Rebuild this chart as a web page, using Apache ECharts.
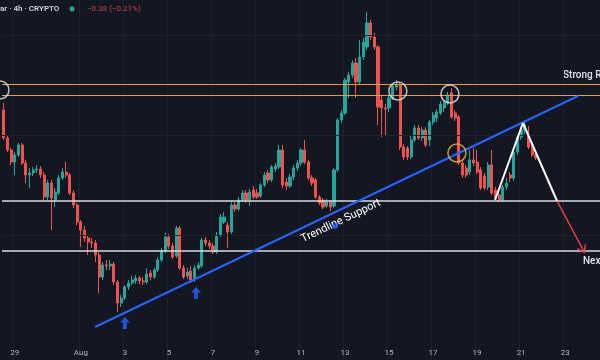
<!DOCTYPE html>
<html><head><meta charset="utf-8">
<script src="https://cdn.jsdelivr.net/npm/echarts@6/dist/echarts.min.js"></script>
<style>html,body{margin:0;padding:0;background:#131722;}#c{width:600px;height:360px;}</style>
</head><body><div id="c"></div>
<script>
// 4h candles, starting Jul 28 12:00 (price units are chart-relative)
const opens = [250,222,210,198,205,215,197,185,187,190,
191,185,163,177,160,167,182,188,185,167,
155,138,130,122,118,117,105,83,95,94,
96,78,57,62,73,77,79,82,79,78,
87,83,90,100,109,123,114,104,132,92,
84,89,80,92,94,120,117,114,108,125,
138,135,128,155,151,160,167,160,170,167,
164,175,187,180,191,193,210,178,174,183,
192,197,210,198,182,180,163,160,154,158,
154,190,240,247,278,285,297,278,303,313,
337,323,313,260,252,252,262,273,275,213,
212,203,220,232,222,230,220,238,242,247,
252,257,267,247,243,197,192,188,200,198,
190,184,173,195,170,165,160,173,185,182,
208,223,230,225,215,205];
const closes = [222,210,198,205,215,197,185,187,190,191,
185,163,177,162,168,182,188,185,167,155,
138,130,122,118,117,105,83,95,94,96,
78,57,62,73,77,80,82,79,78,86,
83,90,100,109,123,114,103,132,92,83,
88,80,92,95,120,117,114,108,125,143,
143,128,155,151,160,167,160,168,163,163,
175,185,180,193,194,210,175,174,183,192,
197,210,198,182,177,163,157,153,158,153,
190,240,247,280,285,297,278,303,318,337,
323,313,253,252,251,262,274,275,213,203,
203,220,232,222,230,215,238,245,248,256,
257,265,243,242,197,185,185,200,197,188,
172,172,195,167,162,160,173,177,182,208,
223,230,235,213,205,202];
const lows = [220,208,195,185,203,195,177,172,184,187,
182,160,160,130,153,165,180,182,165,152,
135,113,118,105,112,98,67,80,90,90,
75,48,53,60,70,75,76,76,75,76,
80,81,88,98,107,111,101,102,90,81,
81,77,78,90,92,114,111,106,106,123,
136,112,126,148,149,158,157,154,161,161,
162,173,177,178,188,191,172,170,172,180,
189,194,196,180,174,161,155,151,152,149,
152,188,237,245,262,282,262,276,300,310,
320,310,235,223,225,248,260,270,210,200,
200,201,218,220,219,213,214,235,238,245,
248,255,241,239,195,182,182,185,194,186,
170,170,170,165,160,158,158,170,178,179,
205,220,226,211,203,200];
const highs = [257,225,212,208,217,217,200,192,193,195,
194,188,180,180,172,185,192,198,187,170,
157,140,134,125,122,120,108,98,100,100,
98,80,65,75,80,84,85,84,83,92,
90,92,103,112,127,126,117,134,134,95,
92,94,95,98,122,123,120,117,128,146,
148,138,158,158,163,170,170,171,174,171,
177,188,190,195,197,215,215,182,186,195,
200,212,220,200,185,182,165,162,161,160,
192,242,250,282,288,300,302,320,322,348,
340,327,315,265,256,265,276,280,278,216,
214,224,235,235,233,233,240,248,251,259,
260,268,272,250,245,200,195,210,212,210,
193,187,198,210,173,168,175,182,188,210,
225,233,238,234,217,208];

const tickDates = ['07-29 00:00','08-01 00:00','08-03 00:00','08-05 00:00','08-07 00:00','08-09 00:00','08-11 00:00','08-13 00:00','08-15 00:00','08-17 00:00','08-19 00:00','08-21 00:00','08-23 00:00'];
const tickTexts = ['29','Aug','3','5','7','9','11','13','15','17','19','21','23'];

// drawn levels and annotations (x in candle index units)
const resistanceLevels = [276, 265];
const supportLevels = [159, 109];
const gridLevels = [325, 225, 125];
const trendline = [[24.85, 33], [156.5, 264]];
const zigzag = [[133.9, 160], [141.5, 237], [150.8, 159]];
const arrowPath = [[150.8, 159], [157.9, 110]];
const whiteCircles = [[-1.05, 270], [107.4, 269], [121.6, 266]];
const orangeCircles = [[123.5, 207]];
const upArrows = [[33.0, 37], [52.4, 67]];
const anchorDots = [[90.3, 134]];

const N = 163;
const categories = [];
const t0 = Date.UTC(2024, 6, 28, 12);
const p2 = n => String(n).padStart(2, '0');
for (let k = 0; k < N; k++) {
  const d = new Date(t0 + k * 4 * 3600 * 1000);
  categories.push(p2(d.getUTCMonth() + 1) + '-' + p2(d.getUTCDate()) + ' ' + p2(d.getUTCHours()) + ':00');
}
const candles = opens.map((o, i) => [o, closes[i], lows[i], highs[i]]);

const FONT = 'Roboto, "Open Sans", sans-serif';
const chart = echarts.init(document.getElementById('c'), null, { renderer: 'canvas' });
const hline = (v, color, width) => ({ yAxis: v, lineStyle: { color: color, width: width, type: 'solid' } });

chart.setOption({
  backgroundColor: '#131722',
  animation: false,
  grid: { left: 2, right: 0, top: 0, bottom: 0 },
  xAxis: [{
    type: 'category', data: categories, boundaryGap: true,
    axisLine: { show: false }, axisTick: { show: false },
    axisLabel: {
      inside: true, margin: 3, color: '#b2b5be', fontSize: 8, fontFamily: FONT,
      interval: (i, v) => tickDates.includes(v),
      formatter: v => tickTexts[tickDates.indexOf(v)]
    },
    splitLine: { show: true, interval: (i, v) => tickDates.includes(v), lineStyle: { color: '#1d2130', width: 1 } }
  }, {
    type: 'value', min: -0.5, max: N - 0.5, show: false
  }],
  yAxis: { type: 'value', min: 0, max: 360, show: false },
  series: [{
    type: 'candlestick', name: 'price', data: candles, barWidth: 2.6,
    itemStyle: { color: '#26a69a', color0: '#ef5350', borderColor: '#26a69a', borderColor0: '#ef5350', borderWidth: 1 },
    markLine: {
      silent: true, symbol: ['none', 'none'], label: { show: false },
      data: [
        ...gridLevels.map(v => hline(v, '#1d2130', 1)),
        ...resistanceLevels.map(v => hline(v, '#e89c42', 1)),
        ...supportLevels.map(v => hline(v, '#d9dbe0', 1.5))
      ]
    }
  }, {
    type: 'line', name: 'drawings', xAxisIndex: 1, data: [],
    markLine: {
      silent: true, symbol: ['none', 'none'],
      data: [
        [{ coord: trendline[0], lineStyle: { color: '#2962ff', width: 2, type: 'solid' },
           label: { show: true, formatter: 'Trendline Support', position: 'insideMiddleBottom', color: '#ffffff', fontSize: 11, fontFamily: FONT, distance: 5 } },
         { coord: trendline[1] }],
        [{ coord: zigzag[0], lineStyle: { color: '#ffffff', width: 2, type: 'solid' }, label: { show: false } }, { coord: zigzag[1] }],
        [{ coord: zigzag[1], lineStyle: { color: '#ffffff', width: 2, type: 'solid' }, label: { show: false } }, { coord: zigzag[2] }],
        [{ coord: arrowPath[0], symbol: 'none', lineStyle: { color: '#e8424d', width: 1.5, type: 'solid' }, label: { show: false } },
         { coord: arrowPath[1], symbol: 'path://M0,10L5,0L10,10L8.4,10L5,3.4L1.6,10Z', symbolSize: [11, 8] }]
      ]
    }
  }, {
    type: 'scatter', xAxisIndex: 1, data: whiteCircles, clip: false, silent: true,
    symbol: 'circle', symbolSize: 18, z: 5,
    itemStyle: { color: 'rgba(0,0,0,0)', borderColor: '#e8e8e8', borderWidth: 1.5 }
  }, {
    type: 'scatter', xAxisIndex: 1, data: orangeCircles, clip: false, silent: true,
    symbol: 'circle', symbolSize: 18, z: 5,
    itemStyle: { color: 'rgba(0,0,0,0)', borderColor: '#e9b949', borderWidth: 1.5 }
  }, {
    type: 'scatter', xAxisIndex: 1, data: upArrows, silent: true, z: 5,
    symbol: 'path://M5,0L10,5.5L7,5.5L7,12L3,12L3,5.5L0,5.5Z', symbolSize: [10, 12],
    itemStyle: { color: '#2962ff' }
  }, {
    type: 'scatter', xAxisIndex: 1, data: anchorDots, silent: true, z: 5,
    symbol: 'circle', symbolSize: 6, itemStyle: { color: '#2962ff' }
  }],
  graphic: [
    { type: 'text', x: 0, y: 9, style: { text: 'ar · 4h · CRYPTO', fill: '#d1d4dc', font: '600 8px ' + FONT, verticalAlign: 'middle' } },
    { type: 'circle', shape: { cx: 72, cy: 9, r: 2.5 }, style: { fill: '#26a69a' } },
    { type: 'text', x: 87, y: 9, style: { text: '−0.38 (−0.21%)', fill: '#c8414a', font: '8px ' + FONT, verticalAlign: 'middle' } },
    { type: 'text', x: 563, y: 75, style: { text: 'Strong Resistance', fill: '#e0e3eb', font: '500 10px ' + FONT, verticalAlign: 'middle' } },
    { type: 'text', x: 583, y: 261, style: { text: 'Next Support', fill: '#e0e3eb', font: '500 10px ' + FONT, verticalAlign: 'middle' } }
  ]
});
</script></body></html>
